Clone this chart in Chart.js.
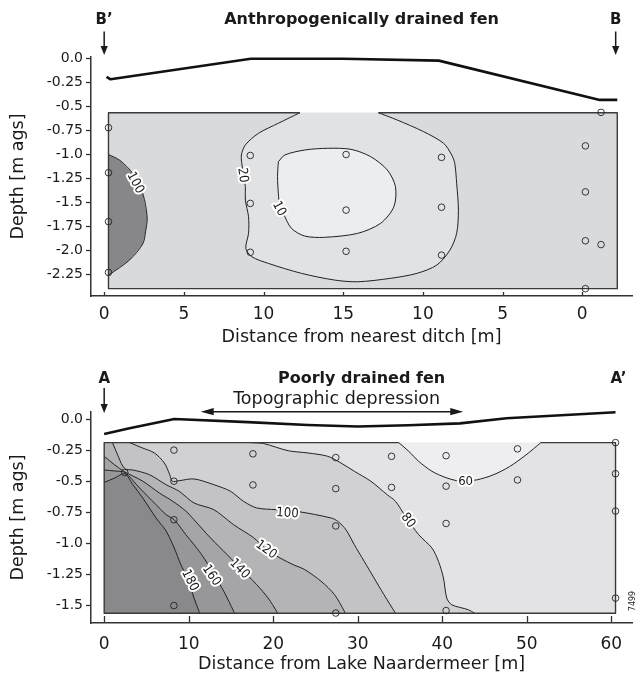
<!DOCTYPE html>
<html>
<head>
<meta charset="utf-8">
<script src="https://cdn.jsdelivr.net/npm/chart.js@4.4.1/dist/chart.umd.min.js"></script>
<style>
  html, body { margin: 0; padding: 0; background: #fff; }
  #wrap { position: relative; width: 637px; height: 675px; overflow: hidden; }
  .panel { position: absolute; left: 0; width: 637px; }
  #topPanel { top: 0; height: 350px; }
  #bottomPanel { top: 345px; height: 330px; }
</style>
</head>
<body>
<div id="wrap">
  <div class="panel" id="topPanel"><canvas id="topChart" width="637" height="350"></canvas></div>
  <div class="panel" id="bottomPanel"><canvas id="bottomChart" width="637" height="330"></canvas></div>
</div>
<script>
// ---- top profile: anthropogenically drained fen (B' - B) ----
const topXTicks = [0, 5, 10, 15, 20, 25, 30];
const topXTickLabels = ['0', '5', '10', '15', '10', '5', '0'];
const topYTicks = [0, -0.25, -0.5, -0.75, -1, -1.25, -1.5, -1.75, -2, -2.25];
const topYTickLabels = ['0.0', '-0.25', '-0.5', '-0.75', '-1.0', '-1.25', '-1.5', '-1.75', '-2.0', '-2.25'];
const topSurface = [[0.15, -0.19], [0.4, -0.215], [9.2, 0], [15, 0], [21, -0.02], [31.1, -0.43], [32.2, -0.43]];
const topBox = { x0: 0.27, x1: 32.2, top: -0.564, bottom: -2.40 };
const topSamples = [
  [0.27, -0.72], [0.27, -1.19], [0.27, -1.70], [0.27, -2.23],
  [9.17, -1.01], [9.17, -1.51], [9.17, -2.02],
  [15.18, -1.0], [15.18, -1.58], [15.18, -2.01],
  [21.17, -1.03], [21.17, -1.55], [21.17, -2.05],
  [30.2, -0.91], [30.2, -1.39], [30.2, -1.90], [30.2, -2.40],
  [31.18, -0.56], [31.18, -1.94]
];
const topC100 = [[0.27, -1.0], [0.98, -1.06], [1.8, -1.2], [2.43, -1.41], [2.7, -1.66], [2.6, -1.8], [2.43, -1.93], [1.6, -2.1], [0.27, -2.26]];
const topC20 = [[12.28, -0.564], [10.93, -0.674], [9.68, -0.779], [8.86, -0.9], [8.61, -1.005], [8.65, -1.11], [8.75, -1.215],
  [8.86, -1.336], [8.86, -1.475], [9.06, -1.65], [9.06, -1.822], [8.89, -1.98], [9.27, -2.067], [10.3, -2.136],
  [12.38, -2.24], [14.45, -2.31], [15.9, -2.328], [17.97, -2.292], [19.63, -2.24], [20.88, -2.153], [21.7, -1.997],
  [22.12, -1.822], [22.23, -1.58], [22.12, -1.3], [22.0, -1.092], [21.81, -1.005], [21.3, -0.883], [20.05, -0.762],
  [18.39, -0.64], [17.21, -0.564]];
const topC10 = [[10.93, -1.075], [11.34, -1.005], [12.59, -0.953], [14.04, -0.935], [15.49, -0.946], [16.73, -1.023],
  [17.77, -1.162], [18.28, -1.336], [18.18, -1.545], [17.35, -1.718], [15.9, -1.823], [13.83, -1.864], [12.59, -1.851],
  [11.75, -1.77], [11.24, -1.614], [11.03, -1.545], [10.93, -1.405], [10.88, -1.232], [10.93, -1.075]];
const topLabels = [
  { t: '100', x: 2.0, y: -1.29, a: 62 },
  { t: '20', x: 8.75, y: -1.215, a: 82 },
  { t: '10', x: 11.03, y: -1.56, a: 62 }
];

// ---- bottom profile: poorly drained fen (A - A') ----
const botXTicks = [0, 10, 20, 30, 40, 50, 60];
const botXTickLabels = ['0', '10', '20', '30', '40', '50', '60'];
const botYTicks = [0, -0.25, -0.5, -0.75, -1, -1.25, -1.5];
const botYTickLabels = ['0.0', '-0.25', '-0.5', '-0.75', '-1.0', '-1.25', '-1.5'];
const botSurface = [[0, -0.12], [3, -0.075], [8.3, 0], [17, -0.025], [24.1, -0.048], [30, -0.06], [36, -0.05], [42.1, -0.035], [47.6, 0.006], [60.5, 0.054]];
const botBox = { x0: 0, x1: 60.5, top: -0.19, bottom: -1.562 };
const botSamples = [
  [2.43, -0.43],
  [8.25, -0.25], [8.25, -0.50], [8.25, -0.81], [8.25, -1.50],
  [17.6, -0.28], [17.6, -0.53],
  [27.4, -0.31], [27.4, -0.56], [27.4, -0.86], [27.4, -1.56],
  [34.0, -0.30], [34.0, -0.55],
  [40.45, -0.295], [40.45, -0.54], [40.45, -0.84], [40.45, -1.54],
  [48.9, -0.24], [48.9, -0.49],
  [60.5, -0.19], [60.5, -0.44], [60.5, -0.74], [60.5, -1.44]
];
const botC60 = [[34.86, -0.19], [36.04, -0.26], [37.21, -0.34], [38.77, -0.42], [40.33, -0.469], [41.7, -0.496], [42.6, -0.497],
  [44.04, -0.49], [46.0, -0.45], [47.95, -0.383], [49.9, -0.289], [51.66, -0.19]];
const botC80 = [[17.32, -0.19], [18.84, -0.197], [21.77, -0.255], [24.11, -0.273], [26.46, -0.3], [28.02, -0.354], [29.59, -0.42],
  [31.54, -0.5], [33.49, -0.609], [34.47, -0.662], [35.64, -0.782], [37.21, -0.93], [38.77, -1.037], [39.55, -1.144],
  [40.14, -1.278], [40.53, -1.439], [41.11, -1.493], [43.07, -1.533], [43.85, -1.562]];
const botC100 = [[3.01, -0.19], [4.54, -0.233], [5.94, -0.273], [7.12, -0.354], [7.76, -0.448], [8.05, -0.5], [8.87, -0.496],
  [10.63, -0.482], [12.97, -0.528], [14.94, -0.581], [16.49, -0.662], [18.05, -0.715], [20.36, -0.729], [22.94, -0.744],
  [26.85, -0.796], [27.63, -0.822], [28.6, -0.89], [29.59, -1.01], [30.76, -1.144], [31.93, -1.278], [33.1, -1.412], [34.47, -1.562]];
const botC120 = [[0.98, -0.19], [1.6, -0.29], [2.19, -0.378], [2.6, -0.405], [3.4, -0.41], [5.36, -0.448], [7.32, -0.528],
  [8.87, -0.581], [10.63, -0.675], [12.97, -0.729], [15.32, -0.85], [17.67, -0.954], [19.23, -1.05], [20.8, -1.117],
  [22.36, -1.171], [23.73, -1.211], [25.67, -1.305], [27.25, -1.412], [28.42, -1.546], [28.5, -1.562]];
const botC140 = [[0, -0.3], [1.27, -0.37], [2.43, -0.425], [4.57, -0.5], [6.53, -0.595], [8.09, -0.66], [9.66, -0.74],
  [10.63, -0.81], [12.59, -0.957], [14.54, -1.09], [16.1, -1.198], [18.05, -1.332], [19.4, -1.44], [20.4, -1.546], [20.5, -1.562]];
const botC160 = [[0, -0.41], [1.25, -0.418], [2.43, -0.43], [4.19, -0.555], [6.14, -0.689], [7.32, -0.769], [8.29, -0.81],
  [9.66, -0.93], [10.63, -1.01], [11.8, -1.117], [12.98, -1.25], [14.15, -1.385], [15.32, -1.546], [15.4, -1.562]];
const botC180 = [[0, -0.51], [1.25, -0.474], [2.43, -0.44], [3.4, -0.528], [4.57, -0.635], [6.14, -0.796], [7.32, -0.9],
  [8.29, -1.037], [9.07, -1.171], [9.85, -1.278], [10.63, -1.439], [11.22, -1.546], [11.3, -1.562]];
const botLabels = [
  { t: '180', x: 10.25, y: -1.294, a: 63 },
  { t: '160', x: 12.78, y: -1.254, a: 55 },
  { t: '140', x: 16.1, y: -1.2, a: 46 },
  { t: '120', x: 19.23, y: -1.045, a: 36 },
  { t: '100', x: 21.69, y: -0.75, a: 4 },
  { t: '80', x: 36.04, y: -0.812, a: 52 },
  { t: '60', x: 42.76, y: -0.498, a: 0 }
];

const SANS = '"DejaVu Sans", sans-serif';
const INK = '#1a1a1a';

// helpers for datasets
const pts = arr => arr.map(p => ({ x: p[0], y: p[1] }));

function fillSet(arr, color) {
  return { data: pts(arr), fill: 'shape', backgroundColor: color, borderColor: 'rgba(0,0,0,0)', borderWidth: 0, pointRadius: 0, tension: 0 };
}
function lineSet(arr, color, width, tension) {
  return { data: pts(arr), fill: false, borderColor: color, borderWidth: width, pointRadius: 0, tension: tension || 0, borderJoinStyle: 'round' };
}
function sampleSet(arr) {
  return { data: pts(arr), showLine: false, pointRadius: 3.3, pointBorderWidth: 0.9, pointBorderColor: '#222', pointBackgroundColor: 'rgba(0,0,0,0)' };
}
function rect(b) {
  return [[b.x0, b.top], [b.x1, b.top], [b.x1, b.bottom], [b.x0, b.bottom], [b.x0, b.top]];
}
// outline of the box, open on the top edge between two contour ends
function outline(b, openFrom, openTo) {
  return [[openFrom, b.top], [b.x0, b.top], [b.x0, b.bottom], [b.x1, b.bottom], [b.x1, b.top], [openTo, b.top]];
}

function stack(list) {
  // later datasets are painted on top
  list.forEach((d, i) => { d.order = list.length - i; });
  return list;
}

// annotations: titles, section markers, contour labels, inward x ticks
const notes = {
  id: 'notes',
  afterDatasetsDraw(chart, args, o) {
    const { ctx, chartArea, scales: { x, y } } = chart;
    ctx.save();
    ctx.strokeStyle = '#333';
    ctx.lineWidth = 1.3;
    x.ticks.forEach(t => {
      const px = Math.round(x.getPixelForValue(t.value)) + 0.5;
      ctx.beginPath();
      ctx.moveTo(px, chartArea.bottom);
      ctx.lineTo(px, chartArea.bottom - o.tickLen);
      ctx.stroke();
    });
    ctx.font = '13px "DejaVu Sans Condensed", "DejaVu Sans", sans-serif';
    ctx.textAlign = 'center';
    ctx.textBaseline = 'middle';
    ctx.lineJoin = 'round';
    o.labels.forEach(l => {
      ctx.save();
      ctx.translate(x.getPixelForValue(l.x), y.getPixelForValue(l.y));
      ctx.rotate(l.a * Math.PI / 180);
      ctx.lineWidth = 4;
      ctx.strokeStyle = '#fff';
      ctx.strokeText(l.t, 0, 1);
      ctx.fillStyle = INK;
      ctx.fillText(l.t, 0, 1);
      ctx.restore();
    });
    ctx.restore();
  },
  afterDraw(chart, args, o) {
    const { ctx, chartArea, scales: { x, y } } = chart;
    ctx.save();
    ctx.fillStyle = INK;
    ctx.strokeStyle = INK;
    ctx.textAlign = 'center';
    ctx.textBaseline = 'middle';
    ctx.font = 'bold 16px ' + SANS;
    ctx.fillText(o.title, (chartArea.left + chartArea.right) / 2, o.titleY);

    ctx.font = 'bold 15px ' + SANS;
    o.markers.forEach(m => {
      const px = x.getPixelForValue(m.x);
      ctx.fillText(m.text, px, o.markerY);
      if (m.arrow) {
        const [a0, a1] = o.arrowY;
        ctx.lineWidth = 1.5;
        ctx.beginPath();
        ctx.moveTo(px, a0);
        ctx.lineTo(px, a1 - 6);
        ctx.stroke();
        ctx.beginPath();
        ctx.moveTo(px - 3.6, a1 - 9);
        ctx.lineTo(px + 3.6, a1 - 9);
        ctx.lineTo(px, a1);
        ctx.closePath();
        ctx.fill();
      }
    });

    if (o.depression) {
      const d = o.depression;
      const x0 = x.getPixelForValue(d.from), x1 = x.getPixelForValue(d.to);
      const py = y.getPixelForValue(d.y);
      ctx.lineWidth = 1.5;
      ctx.beginPath();
      ctx.moveTo(x0 + 8, py);
      ctx.lineTo(x1 - 8, py);
      ctx.stroke();
      [[x0, 1], [x1, -1]].forEach(([hx, s]) => {
        ctx.beginPath();
        ctx.moveTo(hx, py);
        ctx.lineTo(hx + s * 13, py - 3.6);
        ctx.lineTo(hx + s * 13, py + 3.6);
        ctx.closePath();
        ctx.fill();
      });
      ctx.font = '17.5px ' + SANS;
      ctx.fillText(d.text, x.getPixelForValue(d.textX), d.textY);
    }

    if (o.stamp) {
      ctx.save();
      ctx.translate(o.stamp.px, o.stamp.py);
      ctx.rotate(-Math.PI / 2);
      ctx.font = '8px ' + SANS;
      ctx.fillText(o.stamp.text, 0, 0);
      ctx.restore();
    }
    ctx.restore();
  }
};

function axes(cfg) {
  return {
    x: {
      type: 'linear', min: cfg.xMin, max: cfg.xMax,
      afterFit: s => { s.height = cfg.xHeight; },
      afterBuildTicks: s => { s.ticks = cfg.xTicks.map(v => ({ value: v })); },
      ticks: {
        callback: (v, i) => cfg.xTickLabels[i], autoSkip: false, maxRotation: 0, minRotation: 0,
        padding: cfg.xTickPad, color: INK, font: { family: SANS, size: 17 }
      },
      grid: { display: false, drawTicks: false },
      border: { display: true, color: '#333', width: 1.5 },
      title: { display: true, text: cfg.xTitle, color: INK, font: { family: SANS, size: 17.5 }, padding: { top: 0, bottom: cfg.xTitlePad } }
    },
    y: {
      type: 'linear', min: cfg.yMin, max: cfg.yMax,
      afterFit: s => { s.width = 91; },
      afterBuildTicks: s => { s.ticks = cfg.yTicks.map(v => ({ value: v })); },
      ticks: {
        callback: (v, i) => cfg.yTickLabels[i], autoSkip: false,
        padding: 3, color: INK, font: { family: SANS, size: 14 }
      },
      grid: { drawOnChartArea: false, drawTicks: true, tickLength: 5, tickColor: '#333', tickWidth: 1.3 },
      border: { display: true, color: '#333', width: 1.5 },
      title: { display: true, text: 'Depth [m ags]', color: INK, font: { family: SANS, size: 17.5 }, padding: { top: 8, bottom: 0 } }
    }
  };
}

const baseOptions = {
  responsive: false,
  animation: false,
  events: [],
  plugins: { legend: { display: false }, tooltip: { enabled: false } }
};

// top chart
const topDatasets = stack([
  fillSet(rect(topBox), '#d9dadc'),
  fillSet(topC100, '#878789'),
  fillSet(topC20, '#e1e2e4'),
  fillSet(topC10, '#ecedef'),
  lineSet(topC100, '#222', 1, 0.3),
  lineSet(topC20, '#222', 1, 0.3),
  lineSet(topC10, '#222', 1, 0.3),
  lineSet(outline(topBox, topC20[0][0], topC20[topC20.length - 1][0]), '#3a3a3a', 1.4),
  lineSet(topSurface, '#111', 2.6),
  sampleSet(topSamples)
]);

new Chart(document.getElementById('topChart'), {
  type: 'line',
  data: { datasets: topDatasets },
  options: Object.assign({}, baseOptions, {
    layout: { padding: { top: 57, left: 0, right: 0, bottom: 0 } },
    scales: axes({
      xMin: -0.827, xMax: 33.13, yMin: -2.4765, yMax: 0.0177,
      xTicks: topXTicks, xTickLabels: topXTickLabels, yTicks: topYTicks, yTickLabels: topYTickLabels,
      xHeight: 54, xTickPad: 8, xTitlePad: 2.5, xTitle: 'Distance from nearest ditch [m]'
    }),
    plugins: Object.assign({}, baseOptions.plugins, {
      notes: {
        title: 'Anthropogenically drained fen', titleY: 20,
        markers: [{ text: 'B\u2019', x: 0, arrow: true }, { text: 'B', x: 32.1, arrow: true }],
        markerY: 20, arrowY: [31.5, 55], labels: topLabels, tickLen: 4
      }
    })
  }),
  plugins: [notes]
});

// bottom chart
const botDatasets = stack([
  fillSet(rect(botBox), '#e3e3e5'),
  fillSet(botC60, '#eeeef0'),
  fillSet([[botBox.x0, botBox.top]].concat(botC80, [[botBox.x0, botBox.bottom]]), '#d1d1d3'),
  fillSet([[botBox.x0, botBox.top]].concat(botC100, [[botBox.x0, botBox.bottom]]), '#c3c3c5'),
  fillSet([[botBox.x0, botBox.top]].concat(botC120, [[botBox.x0, botBox.bottom]]), '#b4b4b6'),
  fillSet(botC140.concat([[botBox.x0, botBox.bottom]]), '#a5a5a7'),
  fillSet(botC160.concat([[botBox.x0, botBox.bottom]]), '#979799'),
  fillSet(botC180.concat([[botBox.x0, botBox.bottom]]), '#89898b'),
  lineSet(botC60, '#222', 1, 0.3),
  lineSet(botC80, '#222', 1, 0.3),
  lineSet(botC100, '#222', 1, 0.3),
  lineSet(botC120, '#222', 1, 0.3),
  lineSet(botC140, '#222', 1, 0.3),
  lineSet(botC160, '#222', 1, 0.3),
  lineSet(botC180, '#222', 1, 0.3),
  lineSet(outline(botBox, botC60[0][0], botC60[botC60.length - 1][0]), '#3a3a3a', 1.4),
  Object.assign(lineSet(botSurface, '#111', 2.6), { clip: 6 }),
  sampleSet(botSamples)
]);

new Chart(document.getElementById('bottomChart'), {
  type: 'line',
  data: { datasets: botDatasets },
  options: Object.assign({}, baseOptions, {
    layout: { padding: { top: 67, left: 0, right: 0, bottom: 0 } },
    scales: axes({
      xMin: -1.56, xMax: 62.46, yMin: -1.64, yMax: 0.0563,
      xTicks: botXTicks, xTickLabels: botXTickLabels, yTicks: botYTicks, yTickLabels: botYTickLabels,
      xHeight: 52, xTickPad: 11, xTitlePad: 0.5, xTitle: 'Distance from Lake Naardermeer [m]'
    }),
    plugins: Object.assign({}, baseOptions.plugins, {
      notes: {
        title: 'Poorly drained fen', titleY: 34,
        markers: [{ text: 'A', x: 0, arrow: true }, { text: 'A\u2019', x: 60.86, arrow: false }],
        markerY: 34, arrowY: [43, 68], labels: botLabels, tickLen: 7,
        depression: { text: 'Topographic depression', from: 11.42, to: 42.48, y: 0.059, textX: 27.5, textY: 54 },
        stamp: { text: '7499', px: 633, py: 256 }
      }
    })
  }),
  plugins: [notes]
});
</script>
</body>
</html>
